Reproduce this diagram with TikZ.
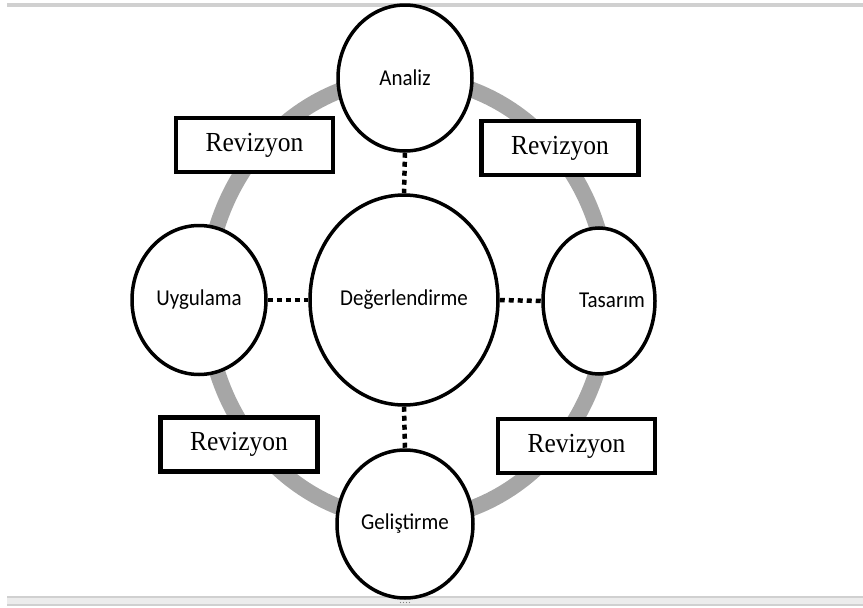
\documentclass[tikz,border=0pt]{standalone}
\usepackage{fontspec}
\usepackage{graphicx}
\setmainfont{Liberation Serif}
\newfontfamily\phasefont{Carlito}
\usetikzlibrary{shapes.geometric}
\definecolor{ringgray}{RGB}{166,166,166}
\definecolor{barfill}{RGB}{236,236,236}
\definecolor{baredge}{RGB}{208,208,208}
% slightly taller lettering
\newcommand\tallish[1]{\scalebox{1}[1.08]{#1}}
\begin{document}
\begin{tikzpicture}[x=1pt,y=-1pt,
  phasefont/.style={font=\phasefont\fontsize{21}{25}\selectfont},
  phase/.style={ellipse, draw=black, line width=3.5pt, fill=white, inner sep=0pt, phasefont},
  revbox/.style={rectangle, draw=black, line width=4.5pt, fill=white,
    minimum width=157pt, minimum height=54pt, inner sep=0pt,
    font=\fontsize{25.5}{30}\selectfont},
  link/.style={line width=4.5pt, dash pattern=on 5pt off 4pt},
  ring/.style={draw=ringgray, line width=16pt},
]
\useasboundingbox (0,0) rectangle (863,608);

% page edges
\fill[baredge] (7,3) rectangle (863,6.5);
\fill[barfill] (7,596) rectangle (863,606);
\draw[baredge, line width=1.2pt] (7,597) -- (863,597);
\draw[baredge, line width=1.2pt] (7,605) -- (863,605);
\foreach \dx in {-4.5,-1.5,1.5,4.5}
  \fill[gray] (405+\dx,602.5) circle (0.7);

% cycle ring
\draw[ring] (407,299) ellipse [x radius=201, y radius=221];

% phases
\node[phase, minimum width=134pt, minimum height=146pt] (analiz) at (405,78) {\tallish{Analiz}};
\node[phase, minimum width=188pt, minimum height=210pt] (deger) at (404,300) {\tallish{Değerlendirme}};
\node[phase, minimum width=134pt, minimum height=149pt] (uyg) at (199,300) {\tallish{Uygulama}};
\node[phase, minimum width=112pt, minimum height=146pt] (tas) at (599,301) {};
\node[phasefont, inner sep=0pt] (tastext) at (612,300) {\tallish{Tasarım}};
\node[phase, minimum width=136pt, minimum height=148pt] (gel) at (405,524) {\tallish{Geliştirme}};

% revision boxes
\node[revbox] (revTL) at (254.5,145) {\tallish{Revizyon}};
\node[revbox] (revTR) at (560,148) {\tallish{Revizyon}};
\node[revbox] (revBL) at (239,444.5) {\tallish{Revizyon}};
\node[revbox] (revBR) at (576.5,446) {\tallish{Revizyon}};

% links to the evaluation phase
\draw[link] (analiz.south) -- (deger.north);
\draw[link] (uyg.east) -- (deger.west);
\draw[link] (deger.east) -- (tas.west);
\draw[link] (deger.south) -- (gel.north);
\end{tikzpicture}
\end{document}
